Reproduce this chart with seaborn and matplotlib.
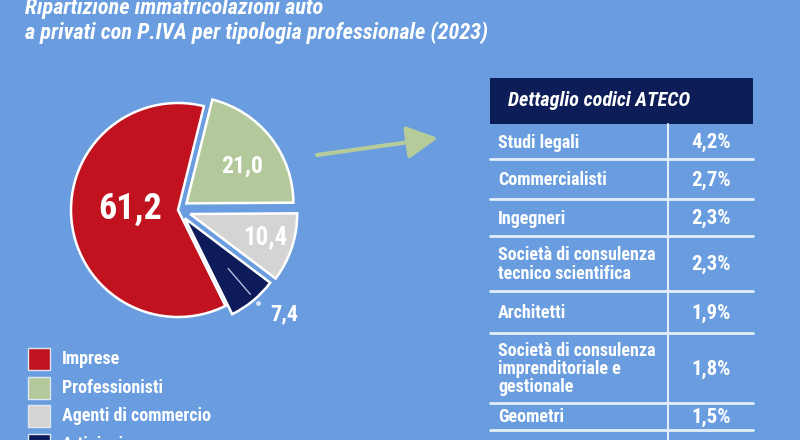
import matplotlib
matplotlib.use("Agg")
import matplotlib.pyplot as plt
import seaborn as sns
import numpy as np
from matplotlib.patches import Rectangle, FancyArrowPatch

# ---------------- data ----------------
title_lines = ["Ripartizione immatricolazioni auto",
               "a privati con P.IVA per tipologia professionale (2023)"]
categories = ["Imprese", "Professionisti", "Agenti di commercio", "Artigiani"]
shares = [61.2, 21.0, 10.4, 7.4]
share_labels = ["61,2", "21,0", "10,4", "7,4"]

table_title = "Dettaglio codici ATECO"
ateco_labels = ["Studi legali", "Commercialisti", "Ingegneri",
                "Società di consulenza\ntecnico scientifica", "Architetti",
                "Società di consulenza\nimprenditoriale e\ngestionale", "Geometri"]
ateco_values = ["4,2%", "2,7%", "2,3%", "2,3%", "1,9%", "1,8%", "1,5%"]

# ---------------- style ----------------
sns.set_theme(style="white")
FONT = ["Roboto Condensed", "Liberation Sans Narrow", "Arial Narrow",
        "Liberation Sans", "DejaVu Sans"]
plt.rcParams["font.family"] = FONT

BG = "#699DDF"
NAVY_HDR = "#0D1D57"
palette = sns.color_palette(["#C1121F", "#B4C99B", "#D6D4D3", "#0E1B5A"])
LINE_C = "#E4EEFA"

W, H = 800, 440
fig = plt.figure(figsize=(W / 100, H / 100), dpi=100)
fig.patch.set_facecolor(BG)

ax = fig.add_axes([0, 0, 1, 1])
ax.set_xlim(0, W)
ax.set_ylim(H, 0)
ax.axis("off")

# ---------------- title ----------------
for txt, yb in zip(title_lines, [14, 39]):
    ax.text(25, yb, txt, color="white", fontsize=16, fontweight="bold",
            fontstyle="italic", va="baseline", ha="left")

# ---------------- pie ----------------
cx, cy, R = 178, 210, 107
L = 1.35
half = L * R
ax_pie = fig.add_axes([(cx - half) / W, 1 - (cy + half) / H, 2 * half / W, 2 * half / H])
ax_pie.set_facecolor("none")
wedges, _ = ax_pie.pie(shares, colors=palette, startangle=296.3, counterclock=False,
                       explode=[0, 0.1, 0.12, 0.1], radius=1.0,
                       wedgeprops=dict(edgecolor="white", linewidth=1.8))
ax_pie.set_xlim(-L, L)
ax_pie.set_ylim(-L, L)
ax_pie.axis("off")

label_dist = [0.45, 0.72, 0.85, 1.39]
label_size = [26, 17, 18, 16]
label_ang_shift = [-7, -4, 1, 6]
for i, (w, lab) in enumerate(zip(wedges, share_labels)):
    th = np.deg2rad((w.theta1 + w.theta2) / 2 + label_ang_shift[i])
    x, y = label_dist[i] * np.cos(th), label_dist[i] * np.sin(th)
    ax_pie.text(x, y, lab, ha="center", va="center", color="white",
                fontsize=label_size[i], fontweight="bold")
# leader line for smallest slice
w = wedges[3]
th = np.deg2rad((w.theta1 + w.theta2) / 2 + 1)
r0, r1, r2 = 0.72, 1.04, 1.15
ax_pie.plot([r0 * np.cos(th), r1 * np.cos(th)], [r0 * np.sin(th), r1 * np.sin(th)],
            color="#B8CDEB", lw=0.9, clip_on=False)
ax_pie.plot([r2 * np.cos(th)], [r2 * np.sin(th)], "o", color="#D8E4F5", ms=2.5, clip_on=False)

# ---------------- legend ----------------
leg_y = [359, 388, 416, 445]
for cat, col, yy in zip(categories, palette, leg_y):
    ax.add_patch(Rectangle((28, yy - 11), 22, 22, facecolor=col, edgecolor="#DDE6F2", lw=1.0))
    ax.text(62, yy, cat, color="white", fontsize=13, fontweight="bold", va="center", ha="left")

# ---------------- arrow ----------------
arr = FancyArrowPatch((317, 155), (438, 138), arrowstyle="-|>,head_length=0.95,head_width=0.5",
                      mutation_scale=20, color="#B5CB99", lw=3, shrinkA=0, shrinkB=0)
ax.add_patch(arr)

# ---------------- table ----------------
tx0, tx1, tdiv = 490, 753, 668
ax.add_patch(Rectangle((tx0, 78), tx1 - tx0, 46, facecolor=NAVY_HDR, edgecolor="none"))
ax.text(508, 101, table_title, color="white", fontsize=14.5, fontweight="bold",
        fontstyle="italic", va="center", ha="left")

row_edges = [124, 159, 199, 236, 291, 333, 403, 430]
ax.plot([tdiv, tdiv], [124, 445], color=LINE_C, lw=1.5, clip_on=False)
for i, (lab, val) in enumerate(zip(ateco_labels, ateco_values)):
    top, bot = row_edges[i], row_edges[i + 1]
    ym = (top + bot) / 2 + 1
    ax.text(498, ym, lab, color="white", fontsize=13, fontweight="bold",
            va="center", ha="left", linespacing=1.02)
    ax.text(711, ym, val, color="white", fontsize=15, fontweight="bold",
            va="center", ha="center")
    ax.plot([tx0, tx1], [bot, bot], color=LINE_C, lw=2)

fig.savefig("out.png", dpi=100, facecolor=BG)
